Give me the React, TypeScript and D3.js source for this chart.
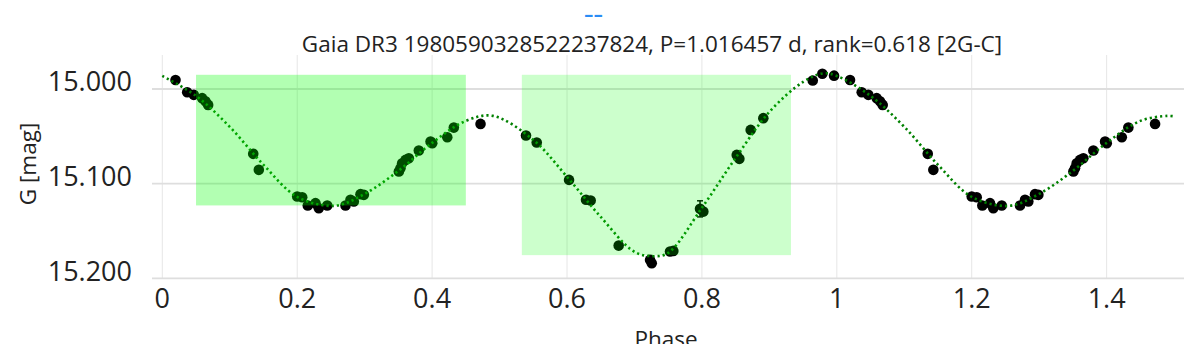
import React from "react";
import * as d3 from "d3";

// ---------- data ----------
const titleText = "Gaia DR3 1980590328522237824, P=1.016457 d, rank=0.618 [2G-C]";
const yAxisTitle = "G [mag]";
const xAxisTitle = "Phase";
const xTickValues = [0, 0.2, 0.4, 0.6, 0.8, 1, 1.2, 1.4];
const xTickLabels = ["0", "0.2", "0.4", "0.6", "0.8", "1", "1.2", "1.4"];
const yTickValues = [15.0, 15.1, 15.2];
const yTickLabels = ["15.000", "15.100", "15.200"];

// observed phase-folded photometry (phase in [0,1))
const obsPhase = [
  0.0196, 0.0369, 0.0467, 0.0591, 0.064, 0.068, 0.1348, 0.1431, 0.2, 0.2074,
  0.2157, 0.2271, 0.232, 0.2445, 0.2716, 0.279, 0.2839, 0.2938, 0.2988, 0.3507,
  0.3531, 0.3556, 0.3606, 0.3655, 0.3803, 0.3977, 0.4002, 0.4225, 0.4322, 0.4718,
  0.5392, 0.5551, 0.603, 0.6282, 0.6351, 0.6766, 0.7231, 0.7256, 0.7527, 0.7576,
  0.7972, 0.8021, 0.8516, 0.8555, 0.8723, 0.891, 0.9643, 0.9785, 0.9959,
];
const obsMag = [
  14.9905, 15.0034, 15.0062, 15.0097, 15.013, 15.0168, 15.0685, 15.0854, 15.1136, 15.1143,
  15.1231, 15.1206, 15.1259, 15.123, 15.1231, 15.1171, 15.1189, 15.1111, 15.1118, 15.0872,
  15.0836, 15.0784, 15.0749, 15.0731, 15.065, 15.0555, 15.0572, 15.0509, 15.0408, 15.0369,
  15.0492, 15.0566, 15.096, 15.117, 15.1178, 15.1654, 15.1805, 15.184, 15.1717, 15.171,
  15.1266, 15.1295, 15.0696, 15.0738, 15.0432, 15.0308, 14.991, 14.9839, 14.9859,
];
const obsErr = [
  0.002, 0.002, 0.002, 0.002, 0.002, 0.004, 0.002, 0.002, 0.002, 0.002,
  0.002, 0.002, 0.002, 0.002, 0.002, 0.002, 0.002, 0.002, 0.002, 0.002,
  0.002, 0.002, 0.002, 0.002, 0.002, 0.002, 0.002, 0.002, 0.002, 0.002,
  0.002, 0.002, 0.002, 0.002, 0.002, 0.002, 0.002, 0.002, 0.002, 0.002,
  0.0085, 0.002, 0.002, 0.002, 0.002, 0.002, 0.002, 0.002, 0.002,
];

// two-harmonic model (one cycle)
const modelPhase = [
  0.0, 0.05, 0.1, 0.15, 0.2, 0.255, 0.3, 0.35, 0.4, 0.45, 0.49, 0.55,
  0.6, 0.65, 0.7, 0.728, 0.75, 0.8, 0.85, 0.9, 0.95, 0.98,
];
const modelMag = [
  14.9862, 15.0073, 15.04, 15.0801, 15.1139, 15.1234, 15.1108, 15.0865, 15.0569, 15.0337, 15.0284, 15.0538,
  15.0928, 15.1351, 15.172, 15.1766, 15.1731, 15.1255, 15.0728, 15.0242, 14.9925, 14.9835,
];
const modelEndPhase = 1.5;
const modelEndMag = 15.0289;

// highlighted phase windows
const boxX0 = [0.05, 0.533];
const boxX1 = [0.45, 0.932];
const boxTop = [14.985, 14.985];
const boxBottom = [15.123, 15.1755];
const boxOpacity = [0.3, 0.2];

const maxPhase = 1.5;

// ---------- chart ----------
const W = 1196;
const H = 344;
const plotLeft = 152;
const plotRight = 1184;
const plotTop = 55;
const plotBottom = 279;

export default function App() {
  const x = d3.scaleLinear().domain([-0.01527, 1.5147]).range([plotLeft, plotRight]);
  const y = d3.scaleLinear().domain([14.9641, 15.2007]).range([plotTop, plotBottom]);

  // observations, repeated one cycle later up to phase 1.5
  const pts: { p: number; m: number; e: number }[] = [];
  obsPhase.forEach((p, i) => {
    pts.push({ p, m: obsMag[i], e: obsErr[i] });
    if (p + 1 <= maxPhase) pts.push({ p: p + 1, m: obsMag[i], e: obsErr[i] });
  });

  const model: [number, number][] = [];
  for (let c = 0; c < 2; c++) {
    modelPhase.forEach((p, i) => {
      if (p + c < maxPhase) model.push([p + c, modelMag[i]]);
    });
  }
  model.push([modelEndPhase, modelEndMag]);
  model.sort((a, b) => a[0] - b[0]);

  const line = d3
    .line<[number, number]>()
    .x((d) => x(d[0]))
    .y((d) => y(d[1]))
    .curve(d3.curveCatmullRom.alpha(0.5));

  const font = "'Open Sans', 'Noto Sans', sans-serif";
  const textColor = "#222";

  return (
    <svg
      width={W}
      height={H}
      style={{ position: "absolute", left: 0, top: 0, background: "#fff" }}
      fontFamily={font}
    >
      {/* vertical grid */}
      {xTickValues.map((v) => (
        <line key={"vg" + v} x1={x(v)} x2={x(v)} y1={plotTop} y2={plotBottom - 1} stroke="#e6e6e6" strokeWidth={1} />
      ))}
      {/* horizontal grid */}
      {yTickValues.map((v) => (
        <line key={"hg" + v} x1={plotLeft} x2={plotRight} y1={y(v)} y2={y(v)} stroke="#dedede" strokeWidth={1.8} />
      ))}

      {/* error bars */}
      {pts.map((d, i) =>
        d.e > 0.003 ? (
          <g key={"e" + i} stroke="#000" strokeWidth={1.5}>
            <line x1={x(d.p)} x2={x(d.p)} y1={y(d.m - d.e)} y2={y(d.m + d.e)} />
            <line x1={x(d.p) - 3} x2={x(d.p) + 3} y1={y(d.m - d.e)} y2={y(d.m - d.e)} />
            <line x1={x(d.p) - 3} x2={x(d.p) + 3} y1={y(d.m + d.e)} y2={y(d.m + d.e)} />
          </g>
        ) : null
      )}
      {/* points */}
      {pts.map((d, i) => (
        <circle key={"p" + i} cx={x(d.p)} cy={y(d.m)} r={5.3} fill="#000" />
      ))}

      {/* model curve */}
      <path d={line(model) || ""} fill="none" stroke="#008000" strokeWidth={2.6} strokeDasharray="2.2,3" />

      {/* highlight boxes */}
      {boxX0.map((b, i) => (
        <rect
          key={"b" + i}
          x={x(b)}
          y={y(boxTop[i])}
          width={x(boxX1[i]) - x(b)}
          height={y(boxBottom[i]) - y(boxTop[i])}
          fill="#00ff00"
          fillOpacity={boxOpacity[i]}
        />
      ))}

      {/* y tick labels */}
      {yTickValues.map((v, i) => (
        <text key={"yt" + v} x={132} y={y(v) + 2.5} textAnchor="end" fontSize={27} fill={textColor}>
          {yTickLabels[i]}
        </text>
      ))}
      {/* x tick labels */}
      {xTickValues.map((v, i) => (
        <text key={"xt" + v} x={x(v)} y={308} textAnchor="middle" fontSize={27} fill={textColor}>
          {xTickLabels[i]}
        </text>
      ))}

      {/* axis titles */}
      <text x={(plotLeft + plotRight) / 2 - 2} y={347} textAnchor="middle" fontSize={22.5} fill={textColor}>
        {xAxisTitle}
      </text>
      <text
        transform={`translate(36,${(plotTop + plotBottom) / 2 - 3}) rotate(-90)`}
        textAnchor="middle"
        fontSize={22.5}
        fill={textColor}
      >
        {yAxisTitle}
      </text>

      {/* title */}
      <text x={652} y={52} textAnchor="middle" fontSize={22.5} fill={textColor}>
        {titleText}
      </text>
      <text
        x={584}
        y={22}
        fontSize={21}
        fontWeight={600}
        fill="#2a8cf5"
        textLength={19}
        lengthAdjust="spacingAndGlyphs"
      >
        --
      </text>
    </svg>
  );
}
